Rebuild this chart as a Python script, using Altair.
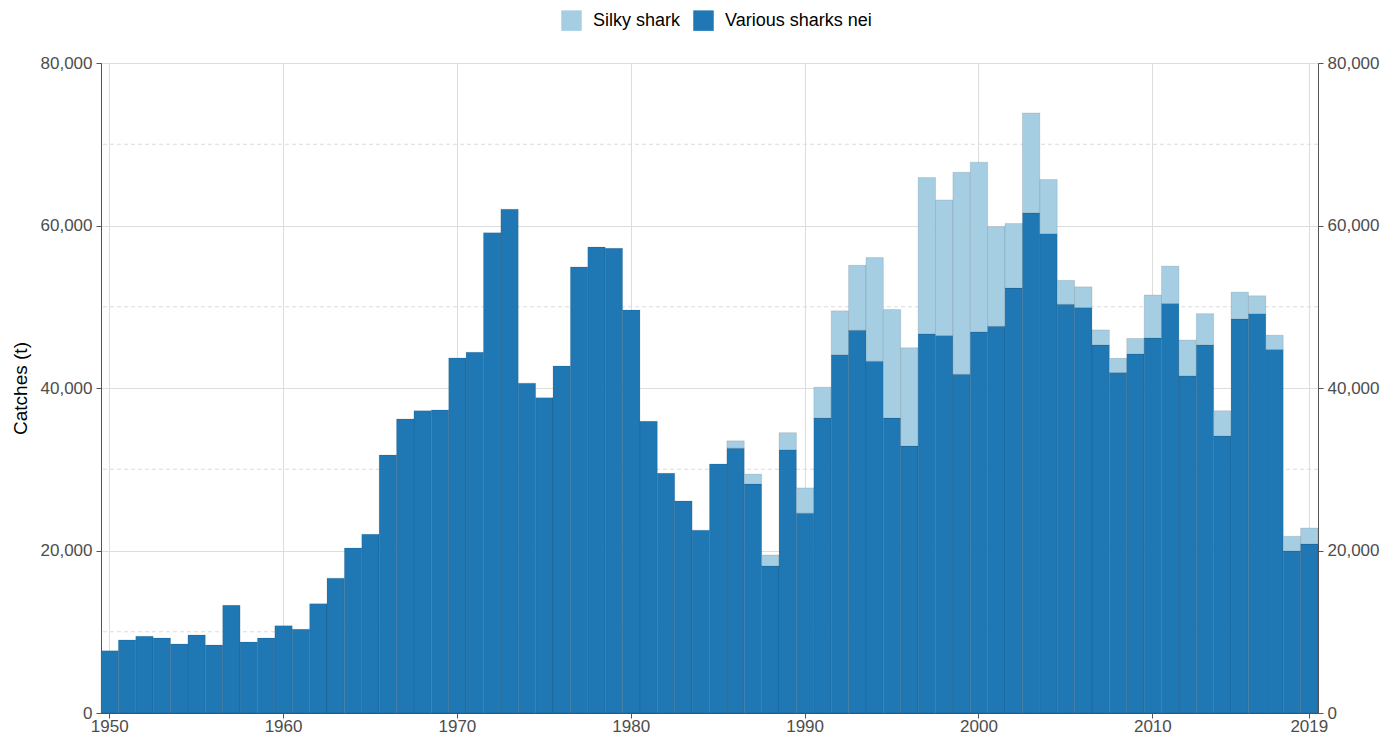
import altair as alt
import pandas as pd

years = list(range(1950, 2020))
various = [7650, 9000, 9450, 9230, 8500, 9600, 8370, 13250, 8740, 9230,
           10750, 10300, 13450, 16600, 20300, 22000, 31750, 36200, 37200, 37300,
           43700, 44400, 59100, 62000, 40600, 38800, 42700, 54900, 57350, 57200,
           49600, 35900, 29500, 26100, 22500, 30650, 32600, 28200, 18100, 32400,
           24600, 36300, 44100, 47100, 43300, 36300, 32850, 46650, 46450, 41700,
           46900, 47600, 52300, 61550, 59000, 50300, 49900, 45300, 41900, 44200,
           46150, 50400, 41500, 45300, 34100, 48500, 49150, 44750, 19950, 20800]
silky = [0] * 36 + [900, 1200, 1350, 2100, 3100, 3800, 5400, 8000, 12750, 13350,
                    12100, 19250, 16700, 24850, 20900, 12250, 7950, 12300, 6650, 2950,
                    2550, 1850, 1750, 1900, 5300, 4600, 4400, 3850, 3100, 3300,
                    2200, 1750, 1800, 1970]
species = ["Silky shark", "Various sharks nei"]
colors = ["#a6cee3", "#1f78b4"]
x_ticks = [1950, 1960, 1970, 1980, 1990, 2000, 2010, 2019]
y_ticks = [0, 20000, 40000, 60000, 80000]
y_minor = [10000, 30000, 50000, 70000]

rows = []
for yr, v, s in zip(years, various, silky):
    rows.append({"year": yr, "species": "Various sharks nei", "value": v, "ord": 0})
    if s > 0:
        rows.append({"year": yr, "species": "Silky shark", "value": s, "ord": 1})
df = pd.DataFrame(rows)

yscale = alt.Scale(domain=[0, 80000], nice=False, zero=True)

minor = alt.Chart(pd.DataFrame({"y": y_minor})).mark_rule(
    strokeDash=[4, 3], color="#dcdcdc", strokeWidth=1
).encode(y=alt.Y("y:Q", scale=yscale, axis=None))

bars = alt.Chart(df).mark_bar(stroke="#000000", strokeOpacity=0.18, strokeWidth=0.6).encode(
    x=alt.X("year:O", title=None,
            scale=alt.Scale(paddingInner=0, paddingOuter=0),
            axis=alt.Axis(values=x_ticks, labelAngle=0, grid=True, bandPosition=0.5,
                          gridColor="#dddddd", domainColor="#555555", tickColor="#555555",
                          labelColor="#4d4d4d", labelFontSize=17, tickSize=5,
                          labelPadding=0)),
    y=alt.Y("value:Q", stack="zero", scale=yscale, title="Catches (t)",
            axis=alt.Axis(values=y_ticks, format=",d", grid=True, gridColor="#dddddd",
                          domainColor="#555555", tickColor="#555555",
                          labelColor="#4d4d4d", labelFontSize=17, tickSize=5,
                          labelPadding=4, titleFontSize=19, titleColor="#000000",
                          titleFontWeight="normal", titlePadding=10)),
    color=alt.Color("species:N", scale=alt.Scale(domain=species, range=colors),
                    legend=alt.Legend(title=None, orient="none", legendX=460, legendY=-53,
                                      direction="horizontal", symbolType="square",
                                      symbolSize=420, symbolStrokeWidth=0,
                                      labelFontSize=18, labelColor="#000000",
                                      columnPadding=12, labelOffset=11)),
    order=alt.Order("ord:Q", sort="ascending"),
)

right = alt.Chart(pd.DataFrame({"y": y_ticks})).mark_rule(opacity=0).encode(
    y=alt.Y("y:Q", scale=yscale, title=None,
            axis=alt.Axis(orient="right", values=y_ticks, format=",d", grid=False,
                          domainColor="#555555", tickColor="#555555",
                          labelColor="#4d4d4d", labelFontSize=17, tickSize=5,
                          labelPadding=4))
)

chart = alt.layer(minor, bars, right).resolve_axis(y="independent").properties(
    width=1217, height=650,
    autosize=alt.AutoSizeParams(type="none"),
    padding={"left": 93, "top": 55, "right": 70, "bottom": 25},
).configure(font="Liberation Sans").configure_view(stroke="#555555", strokeWidth=1)

chart.save("out.html", embed_options={"renderer": "svg", "actions": False})
